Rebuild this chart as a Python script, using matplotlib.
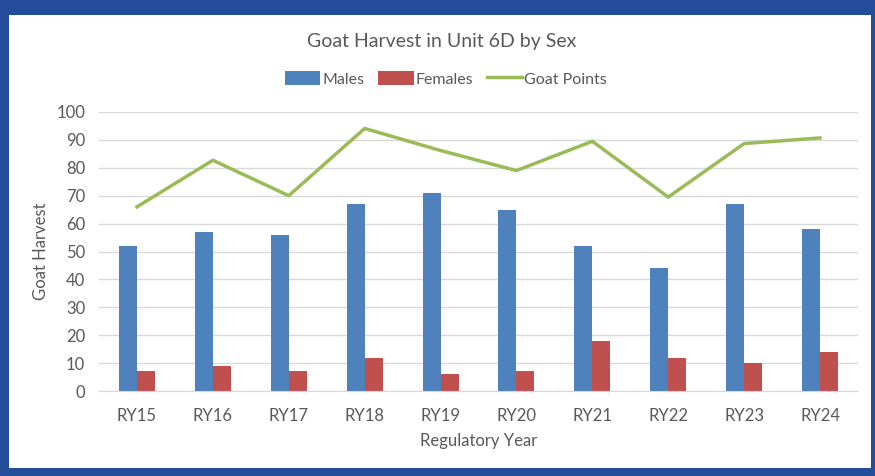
import matplotlib
matplotlib.use("Agg")
import matplotlib.pyplot as plt
import numpy as np

years = ["RY15", "RY16", "RY17", "RY18", "RY19", "RY20", "RY21", "RY22", "RY23", "RY24"]
males = [52, 57, 56, 67, 71, 65, 52, 44, 67, 58]
females = [7, 9, 7, 12, 6, 7, 18, 12, 10, 14]
goat_points = [66, 82.7, 70, 94.1, 86.2, 79, 89.5, 69.5, 88.7, 90.7]

plt.rcParams['font.family'] = ['Lato', 'DejaVu Sans']
TXT = '#595959'
W, H = 875, 476
fig = plt.figure(figsize=(W / 100, H / 100), dpi=100)
fig.patch.set_facecolor('#234D9A')

bg = fig.add_axes([9 / W, (H - 468) / H, (871 - 9) / W, (468 - 15) / H], zorder=0)
bg.set_facecolor('white')
bg.set_xticks([])
bg.set_yticks([])
for s in bg.spines.values():
    s.set_visible(False)

ax = fig.add_axes([99 / W, (H - 391) / H, (858 - 99) / W, (391 - 112) / H], zorder=1)
ax.set_facecolor('none')
x = np.arange(len(years))
bw = 0.237
h1 = ax.bar(x - bw / 2, males, bw, color='#4F81BD', label='Males', zorder=2)
h2 = ax.bar(x + bw / 2, females, bw, color='#C0504D', label='Females', zorder=2)
h3, = ax.plot(x, goat_points, color='#9BBB59', lw=2.5, label='Goat Points', zorder=3)

ax.set_xlim(-0.5, len(years) - 0.5)
ax.set_ylim(0, 100)
ax.set_yticks(range(0, 101, 10))
ax.set_xticks(x)
ax.set_xticklabels(years)
ax.grid(axis='y', color='#D9D9D9', lw=1, zorder=0)
ax.set_axisbelow(True)
for s in ['top', 'right', 'left']:
    ax.spines[s].set_visible(False)
ax.spines['bottom'].set_color('#D9D9D9')
ax.tick_params(axis='both', length=0, labelsize=12, colors=TXT)
ax.tick_params(axis='y', pad=10)
ax.tick_params(axis='x', pad=12)

ax.set_xlabel('Regulatory Year', fontsize=12, color=TXT, labelpad=7)
ax.set_ylabel('Goat Harvest', fontsize=12, color=TXT, labelpad=5)

fig.text(442 / W, (H - 42) / H, 'Goat Harvest in Unit 6D by Sex', ha='center', va='center',
         fontsize=14, color=TXT, zorder=5)
leg = fig.legend([h1, h2, h3], ['Males', 'Females', 'Goat Points'], loc='center',
                 bbox_to_anchor=(446 / W, (H - 79) / H), ncol=3, frameon=False,
                 fontsize=11.5, handlelength=2.2, handleheight=0.9, handletextpad=0.1,
                 columnspacing=0.9, labelcolor=TXT)
leg.set_zorder(5)

fig.savefig('out.png', dpi=100, facecolor=fig.get_facecolor())
